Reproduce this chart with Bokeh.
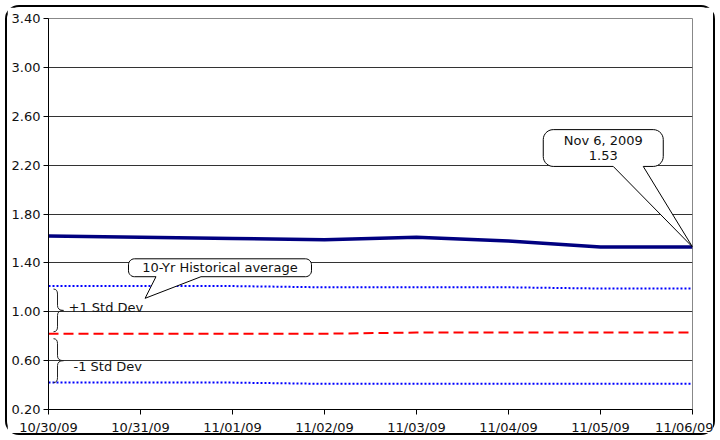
import numpy as np
from bokeh.plotting import figure
from bokeh.models import Range1d, FixedTicker, PrintfTickFormatter
from bokeh.core.properties import value
from bokeh.embed import file_html
from bokeh.resources import INLINE

# ---------------- data ----------------
dates = ["10/30/09", "10/31/09", "11/01/09", "11/02/09",
         "11/03/09", "11/04/09", "11/05/09", "11/06/09"]
rate = [1.62, 1.61, 1.60, 1.59, 1.61, 1.58, 1.53, 1.53]
hist_avg = [0.82, 0.82, 0.82, 0.82, 0.83, 0.83, 0.83, 0.83]
plus_1sd = [1.21, 1.21, 1.21, 1.20, 1.20, 1.20, 1.19, 1.19]
minus_1sd = [0.42, 0.42, 0.42, 0.41, 0.41, 0.41, 0.41, 0.41]
y_ticks = [0.20, 0.60, 1.00, 1.40, 1.80, 2.20, 2.60, 3.00, 3.40]
last_date_long = "Nov 6, 2009"
avg_label = "10-Yr Historical average"
plus_label = "+1 Std Dev"
minus_label = "-1 Std Dev"

x = list(range(len(dates)))

# ---------------- geometry ----------------
W, H = 710, 430
LB, RB, TB, BB = 41, 25, 11, 26
FW, FH = W - LB - RB, H - TB - BB
X0, X1 = x[0], x[-1]
Y0, Y1 = y_ticks[0], y_ticks[-1]
PX = (X1 - X0) / FW
PY = (Y1 - Y0) / FH

FONT = "DejaVu Sans"
TXT = "#111111"

p = figure(width=W, height=H, output_backend="svg", toolbar_location=None,
           x_range=Range1d(X0, X1), y_range=Range1d(Y0, Y1),
           min_border_left=LB, min_border_right=RB,
           min_border_top=TB, min_border_bottom=BB)
p.styles = {"border": "2px solid #000", "border-radius": "14px",
            "margin-left": "5px", "margin-top": "5px"}
p.background_fill_color = "white"
p.border_fill_color = "white"
p.outline_line_color = "#888888"

p.xaxis.ticker = FixedTicker(ticks=x)
p.xaxis.major_label_overrides = {i: d for i, d in zip(x, dates)}
p.yaxis.ticker = FixedTicker(ticks=y_ticks)
p.yaxis.formatter = PrintfTickFormatter(format="%.2f")
for ax in (p.xaxis, p.yaxis):
    ax.axis_line_color = "black"
    ax.major_tick_line_color = "black"
    ax.major_tick_in = 0
    ax.major_tick_out = 5
    ax.minor_tick_line_color = None
    ax.major_label_text_font = FONT
    ax.major_label_text_font_size = "13px"
    ax.major_label_text_color = TXT
    ax.major_label_standoff = 3
p.xaxis.major_label_standoff = 5
p.xgrid.grid_line_color = None
p.ygrid.grid_line_color = "#333333"
p.ygrid.grid_line_width = 1

# ---------------- series ----------------
p.line(x, plus_1sd, color="#0000FF", line_width=2, line_dash="2 2")
p.line(x, minus_1sd, color="#0000FF", line_width=2, line_dash="2 2")
p.line(x, hist_avg, color="#FF0000", line_width=2, line_dash="10 5")
p.line(x, rate, color="#000080", line_width=3.5)


# ---------------- callouts ----------------
def callout(cx, cy, wpx, hpx, rpx, bl, br, tip):
    pts = []
    hw, hh = wpx / 2, hpx / 2
    pts.append((bl, -hh))
    tx = (tip[0] - cx) / PX
    ty = (tip[1] - cy) / PY
    pts.append((tx, ty))
    pts.append((br, -hh))

    def arc(ccx, ccy, a0, a1):
        for a in np.linspace(a0, a1, 8):
            pts.append((ccx + rpx * np.cos(a), ccy + rpx * np.sin(a)))

    arc(hw - rpx, -hh + rpx, -np.pi / 2, 0)
    arc(hw - rpx, hh - rpx, 0, np.pi / 2)
    arc(-hw + rpx, hh - rpx, np.pi / 2, np.pi)
    arc(-hw + rpx, -hh + rpx, np.pi, 1.5 * np.pi)
    pts.append((bl, -hh))
    xs = [cx + dx * PX for dx, dy in pts]
    ys = [cy + dy * PY for dx, dy in pts]
    p.patch(xs, ys, fill_color="white", line_color="black", line_width=1)


# historical average callout
c1x, c1y = 1.864, 1.36
callout(c1x, c1y, 183, 18, 6, -64, -19, (1.05, plus_1sd[1] - 0.10))
p.text([c1x], [c1y], text=[avg_label], text_font=value(FONT),
       text_font_size="13px", text_color=TXT, text_align="center",
       text_baseline="middle")

# last value callout
c2x, c2y = 6.03, 2.34
callout(c2x, c2y, 120, 37, 10, 10, 40, (x[-1], rate[-1]))
p.text([c2x], [c2y + 8 * PY], text=[last_date_long], text_font=value(FONT),
       text_font_size="13px", text_color=TXT, text_align="center",
       text_baseline="middle")
p.text([c2x], [c2y - 8 * PY], text=[f"{rate[-1]:.2f}"], text_font=value(FONT),
       text_font_size="13px", text_color=TXT, text_align="center",
       text_baseline="middle")


# ---------------- braces ----------------
def brace(top, bot, xa_px=5, xm_px=9, xt_px=15, r_px=5):
    xa, xm, xt = X0 + xa_px * PX, X0 + xm_px * PX, X0 + xt_px * PX
    r = r_px * PY
    mid = (top + bot) / 2
    p.quadratic(x0=[xa, xm, xt, xm], y0=[top, mid + r, mid, bot + r],
                x1=[xm, xt, xm, xa], y1=[top - r, mid, mid - r, bot],
                cx=[xm, xm, xm, xm], cy=[top, mid, mid, bot],
                line_color="#222222", line_width=1)
    p.segment(x0=[xm, xm], y0=[top - r, mid - r], x1=[xm, xm], y1=[mid + r, bot + r],
              line_color="#222222", line_width=1)
    return mid


m1 = brace(plus_1sd[0] - 3 * PY, hist_avg[0] + 2 * PY)
m2 = brace(hist_avg[0] - 5 * PY, minus_1sd[0])
p.text([X0 + 20 * PX], [m1 + 3 * PY], text=[plus_label], text_font=value(FONT),
       text_font_size="13px", text_color=TXT, text_align="left",
       text_baseline="middle")
p.text([X0 + 25 * PX], [m2 - 6 * PY], text=[minus_label], text_font=value(FONT),
       text_font_size="13px", text_color=TXT, text_align="left",
       text_baseline="middle")

open("out.html", "w").write(file_html(p, INLINE))
